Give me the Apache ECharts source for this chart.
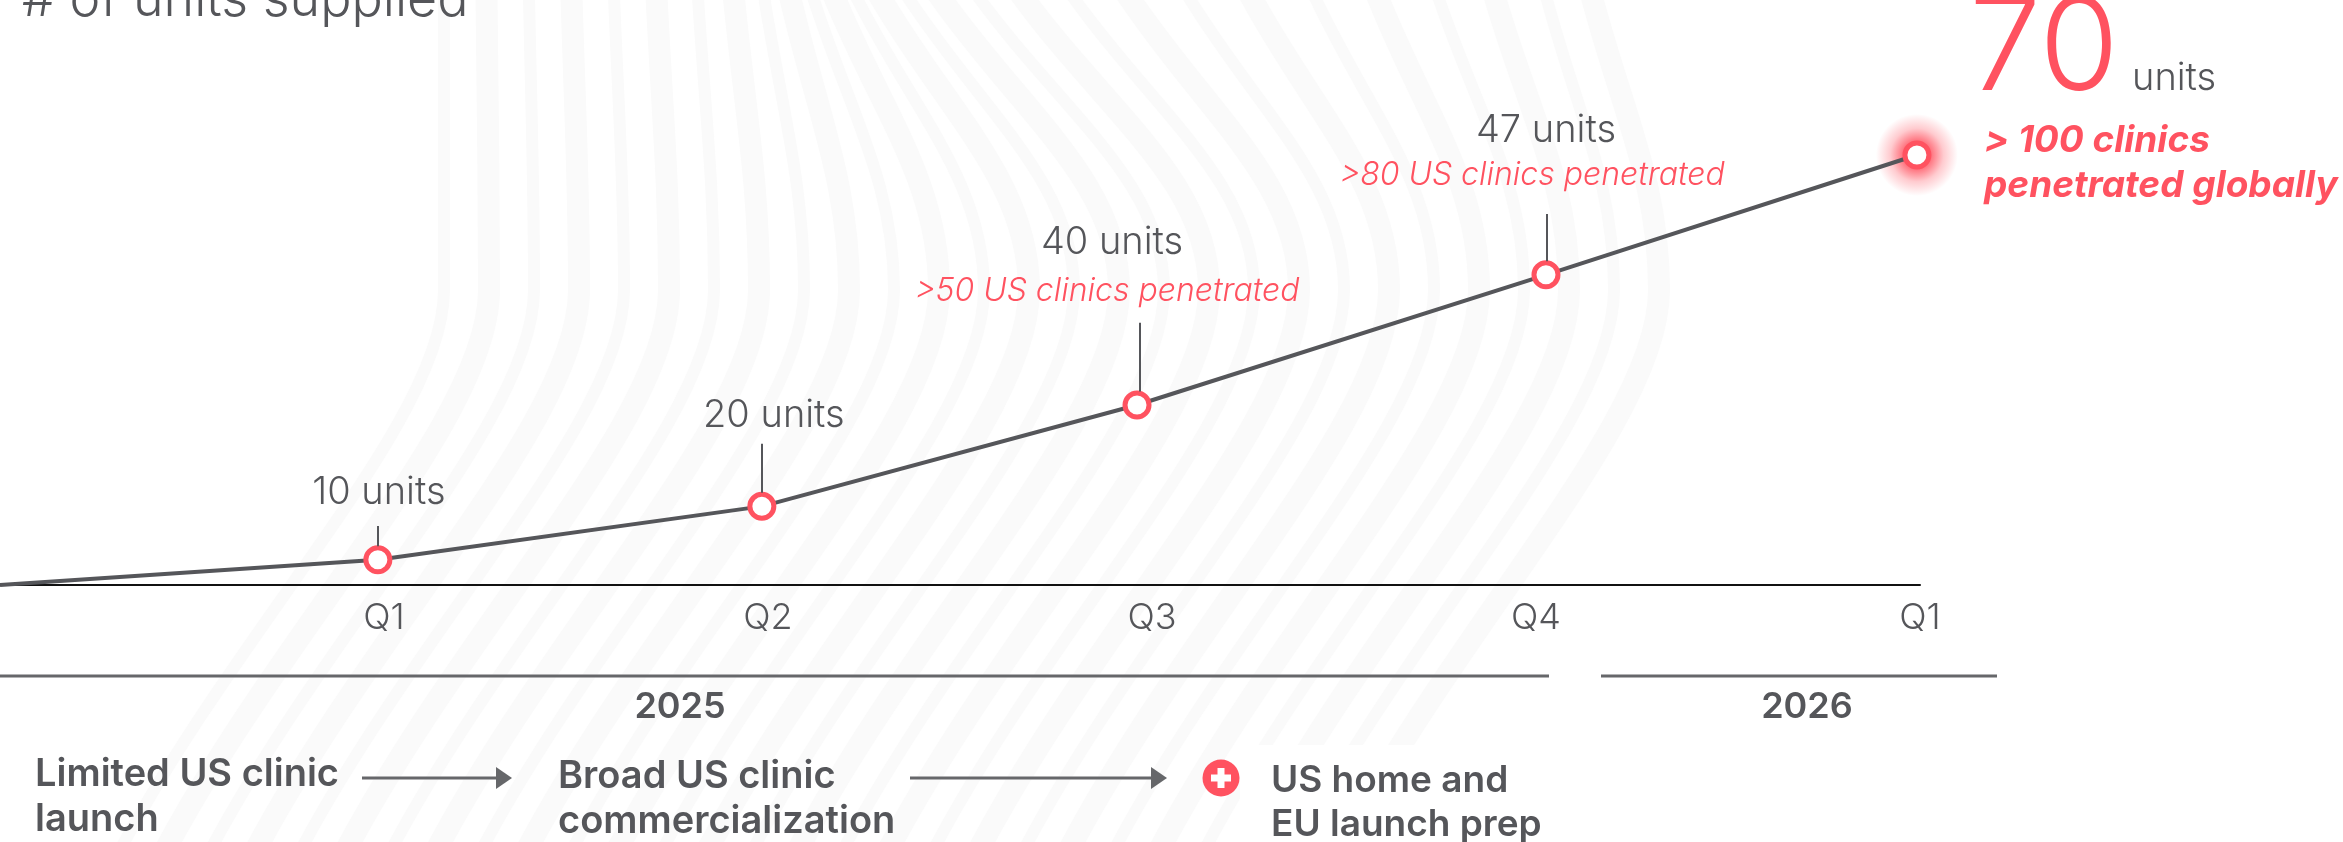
<!DOCTYPE html>
<html>
<head>
<meta charset="utf-8">
<style>html,body{margin:0;padding:0;background:#fff}#main{width:2343px;height:842px}</style>
<script src="https://cdn.jsdelivr.net/npm/echarts@6/dist/echarts.min.js"></script>
</head>
<body>
<div id="main"></div>
<script>
// the drawn line is schematic: its height is not proportional to the printed units
var quarterLabels = ['Q1', 'Q2', 'Q3', 'Q4', 'Q1'];
var pointQuarter = [0, 0.984, 1.984, 2.961, 4.026, 4.992];
var drawnHeight = [0, 4.1, 12.8, 29.3, 50.5, 70];
var leaderQuarter = [null, 0.984, 1.984, 2.969, 4.028];
var leaderTop = [null, 9.6, 23, 42.7, 60.4];
var unitLabels = ['10 units', '20 units', '40 units', '47 units'];
var clinicLabels = ['', '', '>50 US clinics penetrated', '>80 US clinics penetrated'];
var yearLabels = ['2025', '2026'];

var RED = '#ff5260', GREY = '#55565a', FONT = 'Inter';

var unitOffsets = [[1, -34], [12, -57], [-25, -129], [0, -111]];
var clinicOffsets = [[0, 0], [0, 0], [-30, -98], [-14, -83]];

var myChart = echarts.init(document.getElementById('main'));

function txt(s, x, y, size, weight, color, extra) {
    return {
        type: 'text', x: x, y: y, silent: true, z: 5,
        style: Object.assign({
            text: s, fontFamily: FONT, fontSize: size, fontWeight: weight, fill: color,
            align: 'left', verticalAlign: 'bottom'
        }, extra || {})
    };
}
function rule(x1, x2, y, color, width) {
    return {type: 'line', silent: true, z: 5, shape: {x1: x1, y1: y, x2: x2, y2: y}, style: {stroke: color, lineWidth: width}};
}
function arrow(x1, x2, y) {
    return [rule(x1, x2 - 10, y, '#66676a', 3), {
        type: 'polygon', silent: true, z: 5,
        shape: {points: [[x2 - 16, y - 11], [x2, y], [x2 - 16, y + 11]]},
        style: {fill: '#66676a'}
    }];
}

// faint background stripes
var stripes = [];
var nStripes = 27;
for (var i = 0; i <= nStripes; i++) {
    var k = i / nStripes;
    var midX = 444 + (1659 - 444) * k;
    var lean = k < 0.2 ? 0 : 150 * Math.pow(Math.sin(Math.PI * (k - 0.2) / 0.8), 2);
    var topX = 444 + (1590 - 444) * k - lean;
    var botX = 120 + (1340 - 120) * k;
    var w = i % 2 ? 22 : 12;
    var st = {stroke: '#fafafa', lineWidth: w, fill: 'none'};
    stripes.push({
        type: 'bezierCurve', silent: true, z: -10,
        shape: {x1: topX, y1: -10, cpx1: topX + (midX - topX) * 0.45, cpy1: 110, cpx2: midX, cpy2: 180, x2: midX, y2: 290},
        style: st
    });
    stripes.push({
        type: 'bezierCurve', silent: true, z: -10,
        shape: {x1: midX, y1: 290, cpx1: midX, cpy1: 420, cpx2: botX + (midX - botX) * 0.38, cpy2: 620, x2: botX, y2: 850},
        style: st
    });
}
stripes.push({type: 'rect', silent: true, z: -9, shape: {x: 1240, y: 745, width: 500, height: 100}, style: {fill: '#fff'}});

var plus = [
    {type: 'circle', silent: true, z: 5, shape: {cx: 1221, cy: 778, r: 18.5}, style: {fill: RED}},
    {type: 'rect', silent: true, z: 6, shape: {x: 1217.5, y: 768, width: 7, height: 20}, style: {fill: '#fff'}},
    {type: 'rect', silent: true, z: 6, shape: {x: 1211, y: 774.5, width: 20, height: 7}, style: {fill: '#fff'}}
];

var graphics = stripes.concat(plus, arrow(362, 512, 778), arrow(910, 1167, 778), [
    txt('# of units supplied', 22, 26, 52, 300, GREY),
    rule(0, 1549, 676, '#66676a', 3),
    rule(1601, 1997, 676, '#66676a', 3),
    txt(yearLabels[0], 680, 725, 36, 600, GREY, {align: 'center'}),
    txt(yearLabels[1], 1807, 725, 36, 600, GREY, {align: 'center'}),
    txt('Limited US clinic', 35, 794, 38, 600, GREY),
    txt('launch', 35, 839, 38, 600, GREY),
    txt('Broad US clinic', 558, 796, 38, 600, GREY),
    txt('commercialization', 558, 841, 38, 600, GREY),
    txt('US home and', 1271, 799, 37, 600, GREY),
    txt('EU launch prep', 1271, 843, 37, 600, GREY),
    txt('70', 1969, 116, 129, 300, RED),
    txt('units', 2132, 98, 38, 300, GREY),
    txt('> 100 clinics', 1984, 159, 37, 700, RED, {fontStyle: 'italic'}),
    txt('penetrated globally', 1984, 204, 37, 700, RED, {fontStyle: 'italic'})
]);

var lastIdx = pointQuarter.length - 1;

var lineData = pointQuarter.map(function (q, i) {
    var item = {value: [q, drawnHeight[i]]};
    if (i === 0) {
        item.symbol = 'none';
    } else if (i < lastIdx) {
        item.label = {
            show: true, position: 'top', distance: 0, offset: unitOffsets[i - 1],
            formatter: unitLabels[i - 1], fontFamily: FONT, fontSize: 38, fontWeight: 300, color: GREY
        };
    }
    return item;
});

var clinicData = pointQuarter.slice(1, 5).map(function (q, i) {
    return {
        value: [q, drawnHeight[i + 1]],
        label: {
            show: !!clinicLabels[i], position: 'top', distance: 0, offset: clinicOffsets[i],
            formatter: clinicLabels[i], fontFamily: FONT, fontSize: 32, fontWeight: 300, fontStyle: 'italic', color: RED
        }
    };
});

// leaders stop at the top edge of the marker ring
var leaders = [];
for (var j = 1; j < leaderTop.length; j++) {
    leaders.push([{coord: [leaderQuarter[j], drawnHeight[j] + 2.2]}, {coord: [leaderQuarter[j], leaderTop[j]]}]);
}

var option = {
    animation: false,
    backgroundColor: '#fff',
    tooltip: {show: false},
    grid: {left: 0, top: 155, width: 1920, height: 430},
    xAxis: {
        type: 'value', min: 0, max: 5, interval: 1,
        splitLine: {show: false},
        axisTick: {show: false},
        axisLine: {show: true, lineStyle: {color: '#111', width: 2}},
        axisLabel: {
            margin: 15, fontFamily: FONT, fontSize: 36, fontWeight: 300, color: GREY,
            showMinLabel: false,
            formatter: function (v) { return quarterLabels[v - 1] || ''; }
        }
    },
    yAxis: {type: 'value', min: 0, max: 70, show: false},
    graphic: {elements: graphics},
    series: [{
        name: 'glow',
        type: 'scatter',
        clip: false,
        z: 1,
        silent: true,
        symbol: 'circle',
        symbolSize: 82,
        itemStyle: {
            opacity: 1,
            color: {
                type: 'radial', x: 0.5, y: 0.5, r: 0.5,
                colorStops: [
                    {offset: 0, color: 'rgba(255,82,96,1)'},
                    {offset: 0.35, color: 'rgba(255,82,96,0.8)'},
                    {offset: 0.65, color: 'rgba(255,82,96,0.3)'},
                    {offset: 1, color: 'rgba(255,82,96,0)'}
                ]
            }
        },
        data: [[pointQuarter[lastIdx], drawnHeight[lastIdx]]]
    }, {
        name: 'units',
        type: 'line',
        clip: false,
        z: 2,
        symbol: 'circle',
        symbolSize: 24,
        showAllSymbol: true,
        lineStyle: {color: GREY, width: 4},
        itemStyle: {color: '#fff', borderColor: RED, borderWidth: 5, opacity: 1},
        data: lineData,
        markLine: {
            silent: true, symbol: 'none', animation: false,
            label: {show: false},
            lineStyle: {color: GREY, width: 2, type: 'solid'},
            data: leaders
        }
    }, {
        name: 'clinics',
        type: 'scatter',
        clip: false,
        z: 3,
        silent: true,
        symbolSize: 0,
        itemStyle: {opacity: 1},
        data: clinicData
    }]
};

myChart.clear();
myChart.setOption(option);
</script>
</body>
</html>
